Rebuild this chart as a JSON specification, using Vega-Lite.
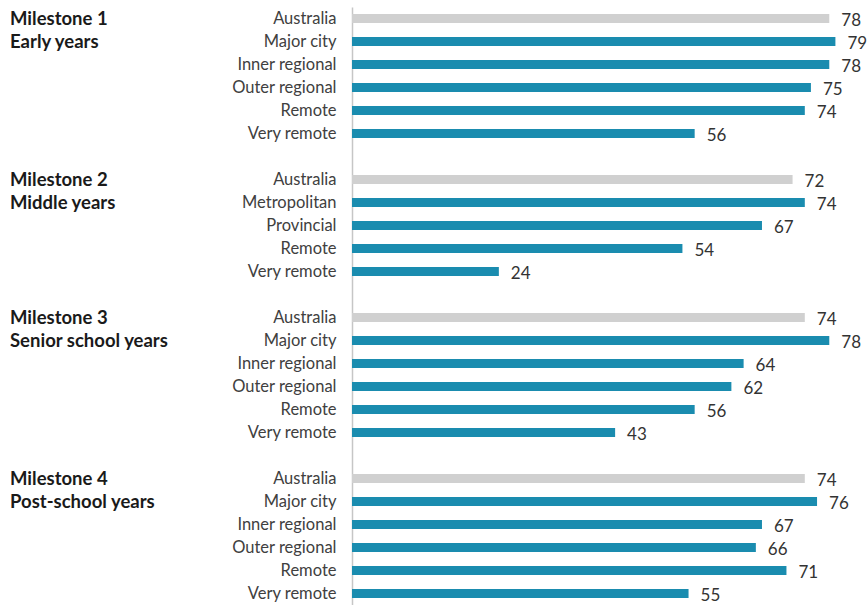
{
  "$schema": "https://vega.github.io/schema/vega-lite/v6.json",
  "padding": {"left": 10, "top": 7, "right": 0, "bottom": 0},
  "background": "white",
  "config": {"view": {"stroke": null}, "font": "Lato"},
  "datasets": {
    "titles": [
      {"key": "1 Australia", "title": "Milestone 1"},
      {"key": "1 Major city", "title": "Early years"},
      {"key": "2 Australia", "title": "Milestone 2"},
      {"key": "2 Metropolitan", "title": "Middle years"},
      {"key": "3 Australia", "title": "Milestone 3"},
      {"key": "3 Major city", "title": "Senior school years"},
      {"key": "4 Australia", "title": "Milestone 4"},
      {"key": "4 Major city", "title": "Post-school years"}
    ],
    "bars": [
      {"key": "1 Australia", "series": "Australia", "value": 78},
      {"key": "1 Major city", "series": "Region", "value": 79},
      {"key": "1 Inner regional", "series": "Region", "value": 78},
      {"key": "1 Outer regional", "series": "Region", "value": 75},
      {"key": "1 Remote", "series": "Region", "value": 74},
      {"key": "1 Very remote", "series": "Region", "value": 56},
      {"key": "2 Australia", "series": "Australia", "value": 72},
      {"key": "2 Metropolitan", "series": "Region", "value": 74},
      {"key": "2 Provincial", "series": "Region", "value": 67},
      {"key": "2 Remote", "series": "Region", "value": 54},
      {"key": "2 Very remote", "series": "Region", "value": 24},
      {"key": "3 Australia", "series": "Australia", "value": 74},
      {"key": "3 Major city", "series": "Region", "value": 78},
      {"key": "3 Inner regional", "series": "Region", "value": 64},
      {"key": "3 Outer regional", "series": "Region", "value": 62},
      {"key": "3 Remote", "series": "Region", "value": 56},
      {"key": "3 Very remote", "series": "Region", "value": 43},
      {"key": "4 Australia", "series": "Australia", "value": 74},
      {"key": "4 Major city", "series": "Region", "value": 76},
      {"key": "4 Inner regional", "series": "Region", "value": 67},
      {"key": "4 Outer regional", "series": "Region", "value": 66},
      {"key": "4 Remote", "series": "Region", "value": 71},
      {"key": "4 Very remote", "series": "Region", "value": 55}
    ]
  },
  "spacing": 12,
  "resolve": {"scale": {"y": "independent"}},
  "hconcat": [
    {
      "width": 200,
      "height": {"step": 23},
      "data": {"name": "titles"},
      "mark": {"type": "text", "align": "left", "baseline": "middle", "fontSize": 18.5, "fontWeight": "bold", "color": "#1a1a1a", "font": "Lato"},
      "encoding": {
        "y": {
          "field": "key", "type": "nominal",
          "scale": {"type": "band", "paddingInner": 0, "paddingOuter": 0,
            "domain": ["1 Australia","1 Major city","1 Inner regional","1 Outer regional","1 Remote","1 Very remote","g1","2 Australia","2 Metropolitan","2 Provincial","2 Remote","2 Very remote","g2","3 Australia","3 Major city","3 Inner regional","3 Outer regional","3 Remote","3 Very remote","g3","4 Australia","4 Major city","4 Inner regional","4 Outer regional","4 Remote","4 Very remote"]},
          "axis": null
        },
        "x": {"datum": 0, "type": "quantitative", "scale": {"domain": [0, 1]}, "axis": null},
        "text": {"field": "title"}
      }
    },
    {
      "width": 514,
      "height": {"step": 23},
      "data": {"name": "bars"},
      "encoding": {
        "y": {
          "field": "key", "type": "nominal",
          "scale": {"type": "band", "paddingInner": 0, "paddingOuter": 0,
            "domain": ["1 Australia","1 Major city","1 Inner regional","1 Outer regional","1 Remote","1 Very remote","g1","2 Australia","2 Metropolitan","2 Provincial","2 Remote","2 Very remote","g2","3 Australia","3 Major city","3 Inner regional","3 Outer regional","3 Remote","3 Very remote","g3","4 Australia","4 Major city","4 Inner regional","4 Outer regional","4 Remote","4 Very remote"]},
          "axis": {
            "title": null, "domain": true, "domainColor": "#c6c6c6", "domainWidth": 1.5,
            "ticks": false, "tickSize": 0, "labelPadding": 16, "labelFontSize": 16.5,
            "labelColor": "#404040", "labelFont": "Lato", "labelLimit": 200,
            "labelExpr": "substring(datum.label, 2)", "minExtent": 130, "maxExtent": 130
          }
        },
        "x": {"field": "value", "type": "quantitative", "scale": {"domain": [0, 84]}, "axis": null}
      },
      "layer": [
        {
          "mark": {"type": "bar", "size": 9},
          "encoding": {
            "color": {"field": "series", "type": "nominal", "scale": {"domain": ["Australia", "Region"], "range": ["#d0d0d0", "#1a8caf"]}, "legend": null}
          }
        },
        {
          "mark": {"type": "text", "align": "left", "baseline": "middle", "dx": 12, "dy": 2, "fontSize": 17, "color": "#333333", "font": "Lato"},
          "encoding": {"text": {"field": "value", "type": "quantitative"}}
        }
      ]
    }
  ]
}
